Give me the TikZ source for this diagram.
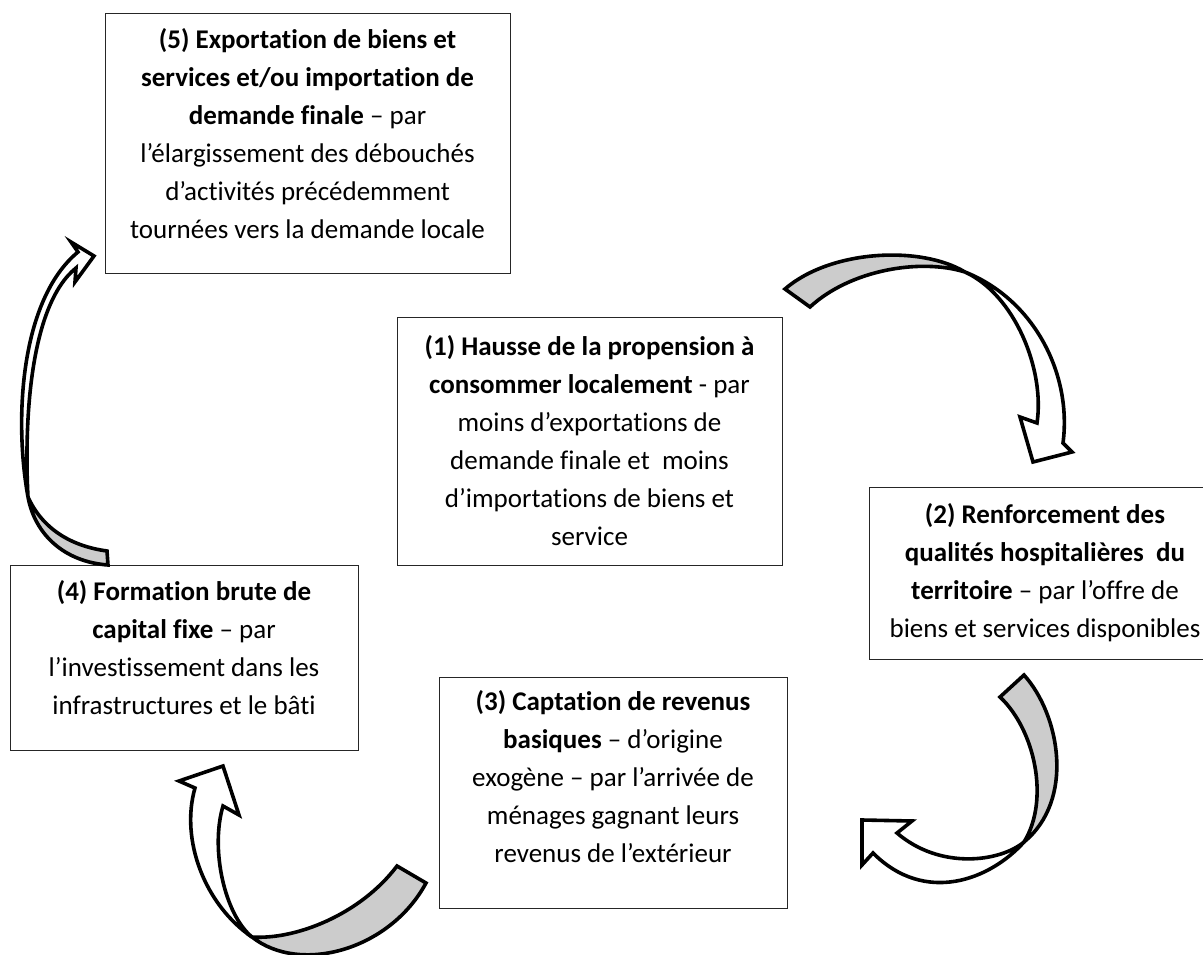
\documentclass[tikz,border=0pt]{standalone}
\usepackage{fontspec}
\setmainfont{Carlito}[Ligatures={NoCommon}]
\newcommand{\firstl}{\rule{0pt}{30pt}}
\begin{document}
\begin{tikzpicture}[x=1pt,y=-1pt,
  box/.style={draw=black!85, line width=1.3pt, fill=white, inner sep=0pt, anchor=north west},
  txt/.style={anchor=north, align=center, inner sep=0pt, font=\fontsize{27}{38}\selectfont},
  band/.style={draw=black, line width=3.6pt, line join=miter, miter limit=5},
  back/.style={band, fill=black!20},
  front/.style={band, fill=white}]

\fill[white] (0,0) rectangle (1203,955);
\useasboundingbox (0,0) rectangle (1203,955);

% boxes
\node[box, minimum width=405pt, minimum height=260pt] (b5) at (105,13) {};
\node[box, minimum width=385pt, minimum height=248pt] (b1) at (397,317) {};
\node[box, minimum width=352pt, minimum height=172pt] (b2) at (869,487) {};
\node[box, minimum width=348pt, minimum height=185pt] (b4) at (10,565) {};
\node[box, minimum width=348pt, minimum height=231pt] (b3) at (439,677) {};

% texts
\node[txt] (t5) at (307.5,18) {\firstl\textbf{(5) Exportation de biens et}\\
  \textbf{services et/ou importation de}\\
  \textbf{demande finale} – par\\
  l’élargissement des débouchés\\
  d’activités précédemment\\
  tournées vers la demande locale};
\node[txt] (t1) at (589.5,325) {\firstl\textbf{(1) Hausse de la propension à}\\
  \textbf{consommer localement} - par\\
  moins d’exportations de\\
  demande finale et~ moins\\
  d’importations de biens et\\
  service};
\node[txt] (t2) at (1045,493) {\firstl\textbf{(2) Renforcement des}\\
  \textbf{qualités hospitalières~ du}\\
  \textbf{territoire} – par l’offre de\\
  biens et services disponibles};
\node[txt] (t4) at (184,570) {\firstl\textbf{(4) Formation brute de}\\
  \textbf{capital fixe} – par\\
  l’investissement dans les\\
  infrastructures et le bâti};
\node[txt] (t3) at (613,680) {\firstl\textbf{(3) Captation de revenus}\\
  \textbf{basiques} – d’origine\\
  exogène – par l’arrivée de\\
  ménages gagnant leurs\\
  revenus de l’extérieur};

% arrow A (1 -> 2)
\coordinate (aT1) at (785,289); \coordinate (aT2) at (810,307);
\coordinate (aX) at (965,272);
\coordinate (aO) at (1063,443); \coordinate (aI) at (1037,423);
\filldraw[front] (aX) .. controls (1035,300) and (1072,375) .. (aO)
  -- (1072,452) -- (1033,462) -- (1020,417) -- (aI)
  .. controls (1045,370) and (1015,295) .. (aX) -- cycle;
\filldraw[back] (aT1) .. controls (830,250) and (920,245) .. (aX)
  .. controls (920,258) and (850,270) .. (aT2) -- cycle;

% arrow B (2 -> 3)
\coordinate (bT1) at (1024,675); \coordinate (bT2) at (1000,697);
\coordinate (bX) at (1024,842);
\coordinate (bO) at (873,853); \coordinate (bI) at (897,833);
\filldraw[front] (bX) .. controls (990,880) and (925,905) .. (bO)
  -- (862,865) -- (862,820) -- (912,821) -- (bI)
  .. controls (940,870) and (1000,862) .. (bX) -- cycle;
\filldraw[back] (bT1) .. controls (1060,715) and (1075,800) .. (bX)
  .. controls (1050,800) and (1035,730) .. (bT2) -- cycle;

% arrow C (3 -> 4)
\coordinate (cT1) at (426,883); \coordinate (cT2) at (397,866);
\coordinate (cX) at (252,937);
\coordinate (cO) at (195,788); \coordinate (cI) at (223,806);
\filldraw[front] (cX) .. controls (205,905) and (180,840) .. (cO)
  -- (179,781) -- (223,766) -- (239,815) -- (cI)
  .. controls (210,850) and (225,915) .. (cX) -- cycle;
\filldraw[back] (cT1) .. controls (390,950) and (300,975) .. (cX)
  .. controls (295,940) and (360,915) .. (cT2) -- cycle;

% arrow D (4 -> 5)
\coordinate (dT1) at (108,565); \coordinate (dT2) at (107,551);
\coordinate (dX) at (28,497);
\coordinate (dO) at (78,252); \coordinate (dI) at (76,268);
\filldraw[front] (dX) .. controls (14,420) and (20,300) .. (dO)
  -- (71,242) -- (94,256) -- (75,282) -- (dI)
  .. controls (30,305) and (24,420) .. (dX) -- cycle;
\filldraw[back] (dT1) .. controls (65,562) and (35,535) .. (dX)
  .. controls (42,528) and (70,546) .. (dT2) -- cycle;
\end{tikzpicture}
\end{document}
